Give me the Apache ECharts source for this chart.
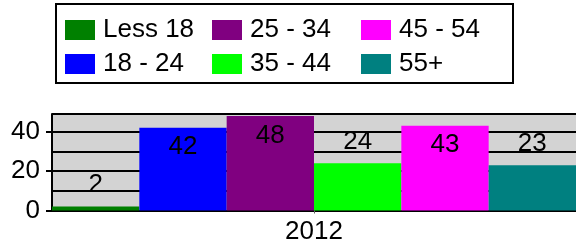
<!DOCTYPE html>
<html>
<head>
<meta charset="utf-8">
<script src="https://cdn.jsdelivr.net/npm/echarts@6/dist/echarts.min.js"></script>
<style>
html,body{margin:0;padding:0;background:#fff;}
#c{width:576px;height:245px;}
</style>
</head>
<body>
<div id="c"></div>
<script>
const categories = ['2012'];
const seriesNames = ['Less 18', '18 - 24', '25 - 34', '35 - 44', '45 - 54', '55+'];
const seriesValues = [2, 42, 48, 24, 43, 23];
const seriesColors = ['#008000', '#0000ff', '#800080', '#00ff00', '#ff00ff', '#008080'];
const yTickLabels = [0, 20, 40];
const yMax = 49;

const FONT = '"Liberation Sans", Arial, sans-serif';
const FS = 26;

const series = seriesNames.map((name, i) => {
  const v = seriesValues[i];
  const inside = v > 30;
  return {
    name: name,
    type: 'bar',
    data: [v],
    barGap: 0,
    barCategoryGap: 0,
    itemStyle: { color: seriesColors[i] },
    label: {
      show: true,
      position: inside ? 'insideTop' : 'top',
      distance: inside ? 7 : 9,
      color: '#000',
      fontFamily: FONT,
      fontSize: FS,
      lineHeight: 25
    }
  };
});

const legendCols = [[0, 1], [2, 3], [4, 5]];
const legendLefts = [65, 212, 361];
const legends = legendCols.map((idx, k) => ({
  orient: 'vertical',
  left: legendLefts[k],
  top: 17,
  padding: 0,
  itemGap: 8,
  itemWidth: 30,
  itemHeight: 20,
  icon: 'rect',
  data: idx.map(i => seriesNames[i]),
  textStyle: { fontFamily: FONT, fontSize: FS, lineHeight: 25, color: '#000', padding: [0, 0, 0, 3] },
  selectedMode: false
}));

const chart = echarts.init(document.getElementById('c'), null, { renderer: 'canvas' });
chart.setOption({
  animation: false,
  backgroundColor: '#fff',
  graphic: [{
    type: 'rect',
    shape: { x: 56, y: 4, width: 457, height: 79 },
    style: { fill: '#fff', stroke: '#000', lineWidth: 2 },
    z: -1
  }],
  legend: legends,
  grid: {
    left: 52, right: -1, top: 114, bottom: 34.5,
    show: true, backgroundColor: '#d3d3d3', borderWidth: 0
  },
  xAxis: [{
    type: 'category',
    data: categories,
    axisLine: { show: true, lineStyle: { color: '#808080', width: 1 } },
    axisTick: { show: true, alignWithLabel: true, length: 3, lineStyle: { color: '#606060' } },
    axisLabel: { fontFamily: FONT, fontSize: FS, color: '#000', margin: 8 },
    splitLine: { show: false }
  }, {
    type: 'category',
    data: categories,
    position: 'top',
    axisLine: { show: true, lineStyle: { color: '#000', width: 2 } },
    axisTick: { show: false },
    axisLabel: { show: false },
    splitLine: { show: false }
  }],
  yAxis: [{
    type: 'value',
    min: 0,
    max: yMax,
    interval: 10,
    axisLine: { show: false },
    axisTick: { show: false },
    axisLabel: { show: false },
    splitLine: { show: true, lineStyle: { color: '#000', width: 2 } }
  }, {
    type: 'value',
    position: 'left',
    min: 0,
    max: yMax,
    interval: 20,
    axisLine: { show: true, lineStyle: { color: '#000', width: 2 } },
    axisTick: { show: true, length: 6, customValues: yTickLabels, lineStyle: { color: '#000', width: 2 } },
    axisLabel: { fontFamily: FONT, fontSize: FS, color: '#000', margin: 12, customValues: yTickLabels },
    splitLine: { show: false }
  }],
  series: series
});
</script>
</body>
</html>
